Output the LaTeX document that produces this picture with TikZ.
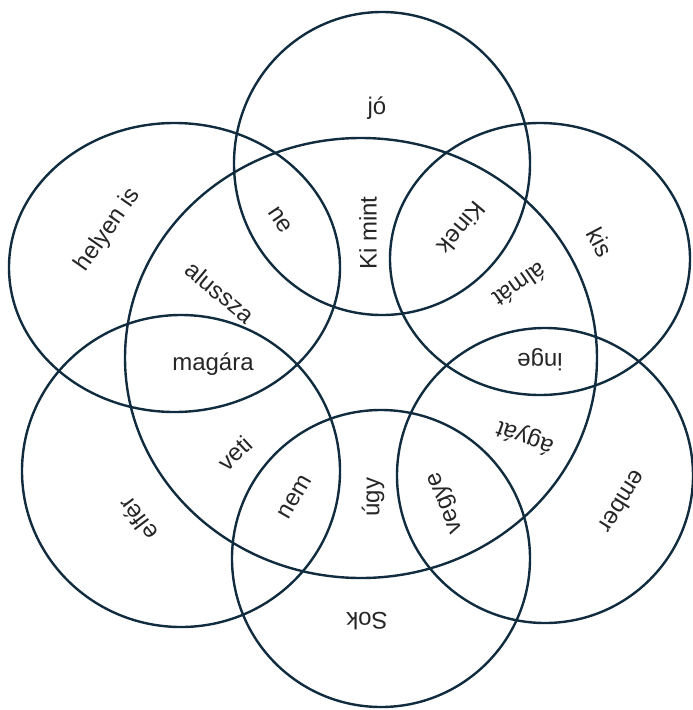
\documentclass[tikz,border=0pt]{standalone}
\usepackage{fontspec}
\setmainfont{Liberation Sans}
\definecolor{ringblue}{RGB}{16,44,62}

\begin{document}
\begin{tikzpicture}[
    x=1pt, y=-1pt,
    every node/.style={text=black!85, inner sep=0pt},
    ring/.style={draw=ringblue, line width=2.4pt},
    word/.style={font=\fontsize{24}{28}\selectfont}
]
    \useasboundingbox (0,0) rectangle (693,710);

    % ==========================
    % CENTRAL ELLIPSE
    % ==========================
    \draw[ring] (361,358) ellipse [x radius=236pt, y radius=220pt];

    % ==========================
    % OUTER RING: six ellipses
    % ==========================
    \foreach \name/\cx/\cy/\rx/\ry in {
        top/382/163.5/148/151.5,
        upright/540/259/150/136,
        lowright/545/475.5/148/147.5,
        bottom/381/558.5/149/148.5,
        lowleft/181/471/159/156,
        upleft/174.5/267.5/165.5/144.5}
    {
        \coordinate (C-\name) at (\cx,\cy);
        \draw[ring] (C-\name) ellipse [x radius=\rx*1pt, y radius=\ry*1pt];
    }

    % ==========================
    % WORDS (outer ones point outwards)
    % ==========================
    \foreach \name/\x/\y/\ang/\txt in {
        jo/377/108/0/jó,
        kis/600/242/-62/kis,
        ember/623/502/-122/ember,
        sok/367/621/180/Sok,
        elfer/138/519/127/elfér,
        helyen/108/230/55/helyen is,
        kimint/368/233/90/Ki mint,
        kinek/462/228/-130/Kinek,
        almat/520/285/-145/álmát,
        inge/540/360/180/inge,
        agyat/525/437/160/ágyát,
        vegye/447/502/112/vegye,
        ugy/373/497/90/úgy,
        nem/295/497/60/nem,
        veti/235/453/43/veti,
        magara/213/364/0/magára,
        alussza/220/292/-40/alussza,
        ne/280/220/-56/ne}
    {
        \node[word, rotate=\ang] (\name) at (\x,\y) {\txt};
    }

\end{tikzpicture}
\end{document}
